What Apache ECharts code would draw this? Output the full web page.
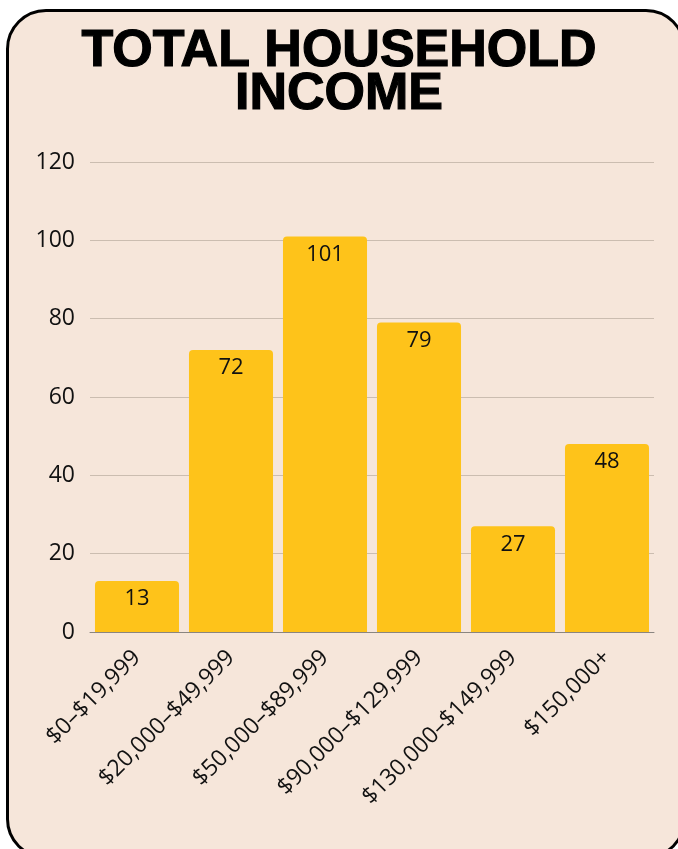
<!DOCTYPE html>
<html>
<head>
<meta charset="utf-8">
<script src="https://cdn.jsdelivr.net/npm/echarts@6/dist/echarts.min.js"></script>
<style>
html,body{margin:0;padding:0;width:678px;height:849px;overflow:hidden;background:#ffffff;}
#card{position:absolute;left:6px;top:9px;width:680px;height:850px;box-sizing:border-box;border:3px solid #000;border-radius:40px;background:#f6e6da;}
#chart{position:absolute;left:0;top:0;width:678px;height:849px;}
</style>
</head>
<body>
<div id="card"></div>
<div id="chart"></div>
<script>
const categories = ['$0–$19,999','$20,000–$49,999','$50,000–$89,999','$90,000–$129,999','$130,000–$149,999','$150,000+'];
const values = [13, 72, 101, 79, 27, 48];
const yTicks = [0, 20, 40, 60, 80, 100, 120];
const titleText = 'TOTAL HOUSEHOLD\nINCOME';

const chart = echarts.init(document.getElementById('chart'), null, {renderer:'canvas'});
chart.setOption({
  backgroundColor: 'transparent',
  animation: false,
  title: {
    text: titleText,
    left: 'center',
    top: 25,
    textStyle: {
      fontFamily: 'Liberation Sans',
      fontWeight: 900,
      fontSize: 52,
      lineHeight: 43,
      color: '#000',
      textBorderColor: '#000',
      textBorderWidth: 1.2
    }
  },
  grid: {left: 90, right: 24, top: 162, bottom: 217, containLabel: false},
  xAxis: {
    type: 'category',
    data: categories,
    axisLine: {show: true, lineStyle: {color: '#8a8580', width: 1}},
    axisTick: {show: false},
    axisLabel: {
      rotate: 45,
      margin: 22,
      fontFamily: 'Open Sans',
      fontSize: 23,
      color: '#111'
    }
  },
  yAxis: {
    type: 'value',
    min: yTicks[0],
    max: yTicks[yTicks.length-1],
    interval: 20,
    axisLine: {show: false},
    axisTick: {show: false},
    axisLabel: {
      margin: 15,
      fontFamily: 'Open Sans',
      fontSize: 23,
      color: '#111'
    },
    splitLine: {lineStyle: {color: '#cbbdb0', width: 1}}
  },
  series: [{
    type: 'bar',
    data: values,
    barCategoryGap: '10.6%',
    itemStyle: {color: '#fec31a', borderRadius: [4,4,0,0]},
    label: {
      show: true,
      position: 'insideTop',
      distance: 7,
      fontFamily: 'Open Sans',
      fontSize: 22,
      color: '#111'
    }
  }]
});
</script>
</body>
</html>
